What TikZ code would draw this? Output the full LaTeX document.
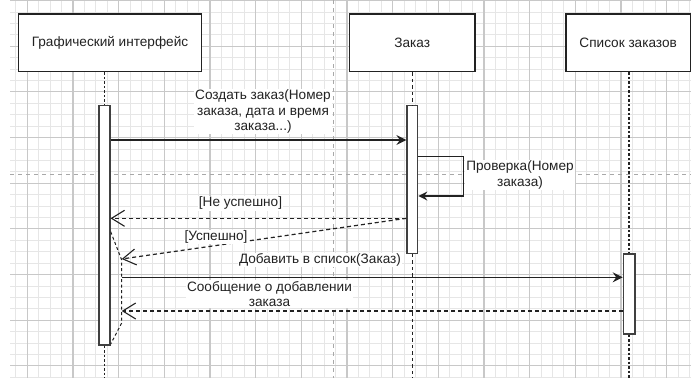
\documentclass[tikz,border=0pt]{standalone}
\usepackage{fontspec}
\setmainfont{Liberation Sans}
\usetikzlibrary{arrows.meta}
\definecolor{gridminor}{HTML}{E6E6E6}
\definecolor{gridmajor}{HTML}{C8C8C8}
\definecolor{pagebreak}{HTML}{A8A8A8}
\definecolor{ink}{HTML}{222222}
\tikzset{
  minorline/.style={draw=gridminor, line width=0.9pt},
  majorline/.style={draw=gridmajor, line width=1.1pt},
  breakline/.style={draw=pagebreak, line width=1.2pt, dash pattern=on 4pt off 4pt},
  lifebox/.style={draw=ink, line width=1.3pt, fill=white, minimum height=57.7pt,
    inner sep=0pt, text=ink, font=\fontsize{13.6}{15.5}\selectfont},
  actbar/.style={draw=black!75, line width=1.2pt, fill=white, minimum width=11pt, inner sep=0pt},
  lifeheavy/.style={draw=ink, line width=1.8pt, dash pattern=on 2.5pt off 2pt},
  lifelight/.style={draw=ink, line width=0.9pt, dash pattern=on 3.5pt off 3pt},
  nestline/.style={draw=ink, line width=1pt, dash pattern=on 3pt off 2.5pt},
  call/.style={draw=ink, line width=1.5pt, -{Stealth[length=10pt,width=10pt,inset=3.5pt]}},
  selfcall/.style={draw=ink, line width=1.2pt, -{Stealth[length=9pt,width=9pt,inset=3pt]}},
  reply/.style={draw=ink, line width=1.2pt, dash pattern=on 4pt off 3pt,
    -{Straight Barb[length=13pt,width=16pt,line width=1.1pt]}},
  msglabel/.style={fill=white, inner sep=1pt, align=center, text=ink,
    font=\fontsize{13.6}{15.5}\selectfont},
}
\begin{document}
\begin{tikzpicture}[x=1pt,y=-1pt]
\useasboundingbox (0,0) rectangle (691,378);

% background grid
\foreach \k in {-1,...,58}
  \draw[minorline] ({27.3+\k*11.4167},0) -- ({27.3+\k*11.4167},378);
\foreach \k in {0,...,33}
  \draw[minorline] (10,{0.6+\k*11.4167}) -- (691,{0.6+\k*11.4167});
\foreach \k in {0,...,14}
  \draw[majorline] ({27.3+\k*45.667},0) -- ({27.3+\k*45.667},378);
\foreach \k in {0,...,8}
  \draw[majorline] (10,{0.6+\k*45.667}) -- (691,{0.6+\k*45.667});

% page breaks
\draw[breakline] (10,174.5) -- (691,174.5);
\draw[breakline] (333.4,0) -- (333.4,378);

% participants
\node[lifebox, minimum width=183.4pt] (gui) at (110,42.85) {Графический интерфейс};
\node[lifebox, minimum width=125.7pt] (order) at (412.15,42.85) {Заказ};
\node[lifebox, minimum width=124.3pt] (list) at (628.15,42.85) {Список заказов};

% activation bars
\node[actbar, minimum height=239.3pt] (a1) at (104.4,225.35) {};
\node[actbar, minimum width=10.7pt, minimum height=147.6pt] (a2) at (412.35,179.5) {};
\node[actbar, minimum width=11.7pt, minimum height=80pt] (a3) at (629.15,294) {};

% lifelines
\coordinate (bottom) at (0,378);
\draw[lifeheavy] (a1.north |- gui.south) -- (a1.north);
\draw[lifeheavy] (a1.south) -- (a1.south |- bottom);
\draw[lifelight] (a2.north |- order.south) -- (a2.north);
\draw[lifelight] (a2.south) -- (a2.south |- bottom);
\draw[lifeheavy] (a3.north |- list.south) -- (a3.north);
\draw[lifeheavy] (a3.south) -- (a3.south |- bottom);

% nested activation outline
\coordinate (n1) at (110.7,231.7);
\coordinate (n2) at (121.7,260);
\coordinate (n3) at (121.7,323);
\coordinate (n4) at (110.7,344);
\draw[nestline] (n1) -- (n2) -- (n3) -- (n4);

% create order
\coordinate (m1) at (0,140);
\draw[call] (a1.east |- m1) -- (a2.west |- m1);
\node[msglabel] (l1) at (263,111.5) {Создать заказ(Номер\\заказа, дата и время\\заказа...)};

% self check
\coordinate (s1) at (463.3,156.7);
\coordinate (s2) at (463.3,196);
\draw[selfcall] (a2.east |- s1) -- (s1) -- (s2) -- (a2.east |- s2);
\node[msglabel] (l2) at (520,175) {Проверка(Номер\\заказа)};

% replies
\coordinate (r1) at (0,218.3);
\coordinate (r2) at (0,259);
\draw[reply] (a2.west |- r1) -- (a1.east |- r1);
\node[msglabel] (l3) at (240.5,203.3) {[Не успешно]};
\draw[reply] (a2.west |- r1) -- (n2 |- r2);
\node[msglabel] (l4) at (216,237) {[Успешно]};

% add to list
\coordinate (m5) at (0,277.3);
\draw[call] (n2 |- m5) -- (a3.west |- m5);
\node[msglabel] (l5) at (320,260) {Добавить в список(Заказ)};

% confirmation
\coordinate (r3) at (0,311);
\draw[reply] (a3.west |- r3) -- (n2 |- r3);
\node[msglabel] (l6) at (269.5,294) {Сообщение о добавлении\\заказа};
\end{tikzpicture}
\end{document}
